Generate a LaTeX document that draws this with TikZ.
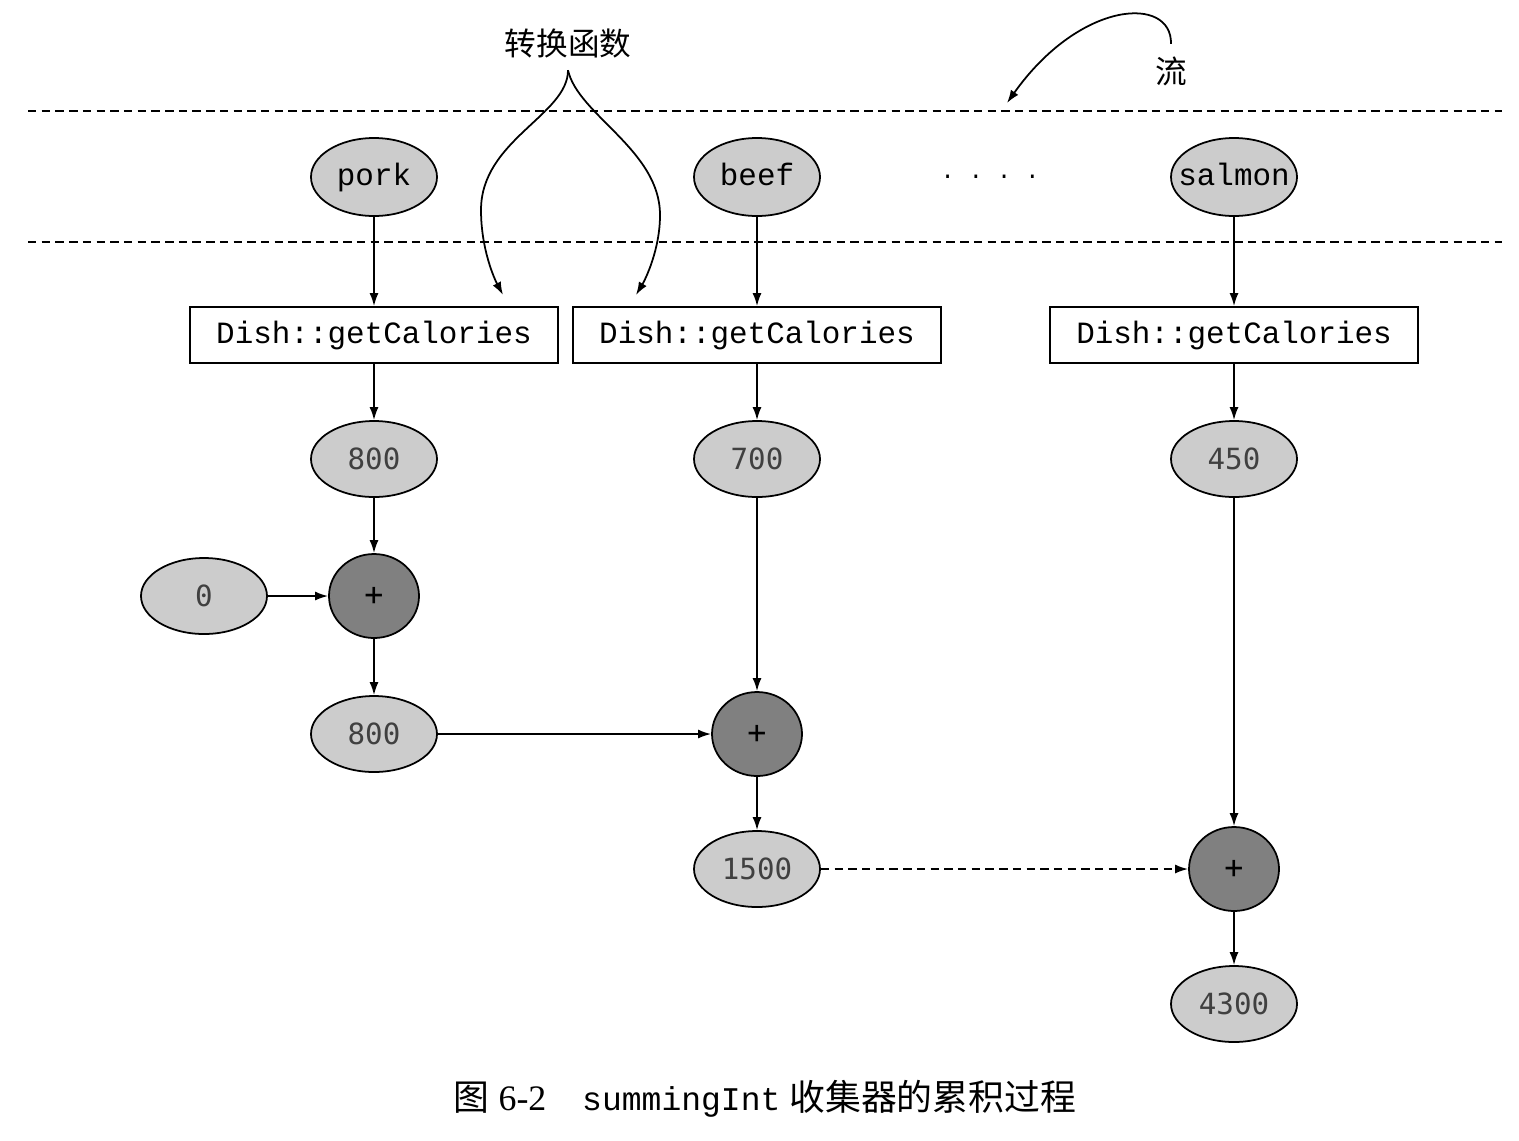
\documentclass[tikz,border=0pt]{standalone}
\usepackage{fontspec}
\setmainfont{Liberation Serif}
\setmonofont{Liberation Mono}
\newfontfamily\cjk{Noto Sans CJK SC}
\newfontfamily\numfont{DejaVu Sans Mono}
\usetikzlibrary{shapes.geometric,arrows.meta}

\begin{document}
\begin{tikzpicture}[
  >={Latex[length=1.3mm,width=0.9mm]},
  line width=0.5pt,
  dish/.style={ellipse,draw,fill=gray!40,minimum width=1.26cm,minimum height=0.78cm,inner sep=0pt,text height=1.5ex,text depth=0.45ex,font=\fontsize{8.8}{10}\ttfamily},
  val/.style={ellipse,draw,fill=gray!40,minimum width=1.26cm,minimum height=0.76cm,inner sep=0pt,text=black!75,font=\fontsize{8.3}{10}\numfont},
  sum/.style={ellipse,draw,fill=gray,minimum width=0.90cm,minimum height=0.84cm,inner sep=0pt,font=\fontsize{9}{10}\numfont},
  mapper/.style={rectangle,draw,minimum width=3.68cm,minimum height=0.56cm,inner sep=0pt,font=\fontsize{8.8}{10}\ttfamily},
  sep/.style={dash pattern=on 2.4pt off 1.5pt}
]

\useasboundingbox (0,0) rectangle (15.19,-11.40);

% stream borders
\coordinate (topL) at (0.28,-1.11);
\coordinate (topR) at (15.02,-1.11);
\coordinate (botL) at (0.28,-2.42);
\coordinate (botR) at (15.02,-2.42);
\draw[sep] (topL) -- (topR);
\draw[sep] (botL) -- (botR);

% stream elements
\node[dish]
(pork)
at (3.74,-1.77)
{pork};

\node[dish]
(beef)
at (7.57,-1.77)
{beef};

\node[dish]
(salmon)
at (12.34,-1.77)
{\makebox[0pt]{salmon}};

\node[font=\fontsize{6.7}{8}\ttfamily]
(dots)
at (9.90,-1.77)
{. . . .};

% mapping functions
\node[mapper]
(mapP)
at (3.74,-3.35)
{Dish::getCalories};

\node[mapper]
(mapB)
at (7.57,-3.35)
{Dish::getCalories};

\node[mapper]
(mapS)
at (12.34,-3.35)
{Dish::getCalories};

% calories
\node[val]
(calP)
at (3.74,-4.59)
{800};

\node[val]
(calB)
at (7.57,-4.59)
{700};

\node[val]
(calS)
at (12.34,-4.59)
{450};

% accumulation
\node[val]
(zero)
at (2.04,-5.96)
{0};

\node[sum]
(addP)
at (3.74,-5.96)
{+};

\node[val]
(accP)
at (3.74,-7.34)
{800};

\node[sum]
(addB)
at (7.57,-7.34)
{+};

\node[val]
(accB)
at (7.57,-8.69)
{1500};

\node[sum]
(addS)
at (12.34,-8.69)
{+};

\node[val]
(accS)
at (12.34,-10.04)
{4300};

\draw[->] (pork) -- (mapP);
\draw[->] (beef) -- (mapB);
\draw[->] (salmon) -- (mapS);
\draw[->] (mapP) -- (calP);
\draw[->] (mapB) -- (calB);
\draw[->] (mapS) -- (calS);
\draw[->] (calP) -- (addP);
\draw[->] (zero) -- (addP);
\draw[->] (addP) -- (accP);
\draw[->] (accP) -- (addB);
\draw[->] (calB) -- (addB);
\draw[->] (addB) -- (accB);
\draw[->,sep] (accB) -- (addS);
\draw[->] (calS) -- (addS);
\draw[->] (addS) -- (accS);

% labels
\node[font=\fontsize{9}{10}\cjk]
(conv)
at (5.68,-0.43)
{转换函数};

\coordinate (convL) at (5.03,-2.95);
\coordinate (convR) at (6.36,-2.95);

\draw[->]
(conv.south)
.. controls (5.68,-1.15) and (4.81,-1.40) .. (4.81,-2.10)
.. controls (4.81,-2.50) and (4.95,-2.80) .. (convL);

\draw[->]
(conv.south)
.. controls (5.78,-1.15) and (6.60,-1.50) .. (6.60,-2.15)
.. controls (6.60,-2.50) and (6.45,-2.80) .. (convR);

\node[font=\fontsize{9}{10}\cjk]
(flow)
at (11.71,-0.71)
{流};

\coordinate (flowEnd) at (10.07,-1.03);

\draw[->]
(flow.north)
.. controls (11.72,0.05) and (10.80,0.00) .. (flowEnd);

% caption
\node
(caption)
at (7.65,-10.99)
{\fontsize{10.2}{12}\selectfont{\cjk 图} 6-2\quad{\ttfamily\fontsize{9.4}{12}\selectfont summingInt} {\cjk 收集器的累积过程}};

\end{tikzpicture}
\end{document}
